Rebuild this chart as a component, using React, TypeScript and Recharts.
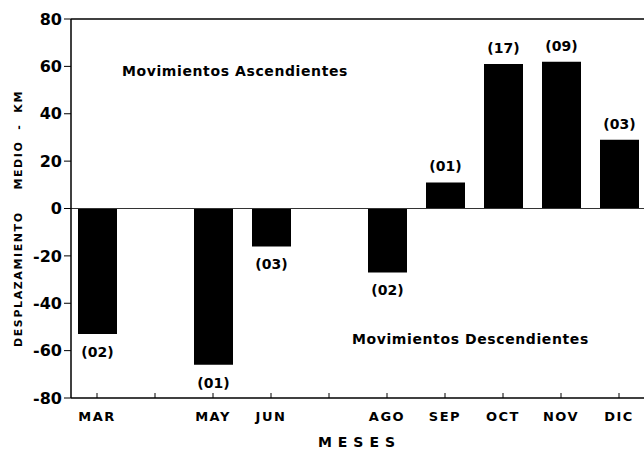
import React from 'react';
import { BarChart, Bar, XAxis, YAxis, ReferenceLine, LabelList } from 'recharts';

const months = ['MAR', 'ABR', 'MAY', 'JUN', 'JUL', 'AGO', 'SEP', 'OCT', 'NOV', 'DIC'];
const tickLabels = ['MAR', '', 'MAY', 'JUN', '', 'AGO', 'SEP', 'OCT', 'NOV', 'DIC'];
const desplazamiento = [-53, null, -66, -16, null, -27, 11, 61, 62, 29];
const casos = ['(02)', '', '(01)', '(03)', '', '(02)', '(01)', '(17)', '(09)', '(03)'];
const yTicks = [-80, -60, -40, -20, 0, 20, 40, 60, 80];

const data = months.map((m, i) => ({ mes: m, valor: desplazamiento[i], casos: casos[i] }));

const FONT = '"DejaVu Sans", sans-serif';

// label shows the number of cases; placed above positive bars, below negative ones
const CountLabel = (props: any) => {
  const { x, y, width, height, value } = props;
  if (value == null) return null;
  const i = desplazamiento.indexOf(value);
  const top = Math.min(y, y + height);
  const bottom = Math.max(y, y + height);
  const ty = value >= 0 ? top - 11 : bottom + 23;
  return (
    <text x={x + width / 2} y={ty} textAnchor="middle" fontFamily={FONT} fontWeight="bold" fontSize={14} fill="#000">
      {casos[i]}
    </text>
  );
};

const YTitle = (props: any) => {
  const { viewBox } = props;
  const cx = 18;
  const cy = viewBox.y + viewBox.height / 2 + 10;
  return (
    <text
      x={cx}
      y={cy}
      transform={`rotate(-90 ${cx} ${cy})`}
      textAnchor="middle"
      dominantBaseline="central"
      fontFamily={FONT}
      fontWeight="bold"
      fontSize={11}
      letterSpacing={1.6}
      fill="#000"
      style={{ whiteSpace: 'pre' }}
    >
      {'DESPLAZAMIENTO    MEDIO  -  KM'}
    </text>
  );
};

const App = () => {
  return (
    <div style={{ position: 'fixed', left: 0, top: 0, width: 644, height: 449, overflow: 'hidden', background: '#fff' }}>
      <BarChart width={648} height={449} data={data} margin={{ top: 19, right: 0, left: 0, bottom: 0 }}>
        <ReferenceLine y={80} stroke="#000" strokeWidth={1.5} />
        <ReferenceLine y={0} stroke="#333" strokeWidth={1} />
        <ReferenceLine
          y={58}
          stroke="none"
          label={{ value: 'Movimientos Ascendientes', position: 'insideLeft', offset: 51, fill: '#000', fontFamily: FONT, fontWeight: 'bold', fontSize: 14, letterSpacing: 0.6 }}
        />
        <ReferenceLine
          y={-55}
          stroke="none"
          label={{ value: 'Movimientos Descendientes', position: 'insideLeft', offset: 281, fill: '#000', fontFamily: FONT, fontWeight: 'bold', fontSize: 14, letterSpacing: 0.6 }}
        />
        <XAxis
          dataKey="mes"
          height={51}
          padding={{ left: -3, right: 0 }}
          tickFormatter={(_v: any, i: number) => tickLabels[i]}
          interval={0}
          tickSize={-5}
          tickMargin={19}
          axisLine={{ stroke: '#000', strokeWidth: 1.5 }}
          tickLine={{ stroke: '#000' }}
          tick={{ fill: '#000', fontFamily: FONT, fontWeight: 'bold', fontSize: 13, letterSpacing: 1.5 }}
          label={{ value: 'MESES', position: 'insideBottom', offset: 2, fill: '#000', fontFamily: FONT, fontWeight: 'bold', fontSize: 14, letterSpacing: 6 }}
        />
        <YAxis
          width={71}
          domain={[-80, 80]}
          ticks={yTicks}
          allowDataOverflow
          tickSize={7}
          tickMargin={2}
          axisLine={{ stroke: '#000', strokeWidth: 1.5 }}
          tickLine={{ stroke: '#000' }}
          tick={{ fill: '#000', fontFamily: FONT, fontWeight: 'bold', fontSize: 16 }}
          label={<YTitle />}
        />
        <Bar dataKey="valor" fill="#000" barSize={39} isAnimationActive={false}>
          <LabelList dataKey="valor" content={<CountLabel />} />
        </Bar>
      </BarChart>
    </div>
  );
};

export default App;
